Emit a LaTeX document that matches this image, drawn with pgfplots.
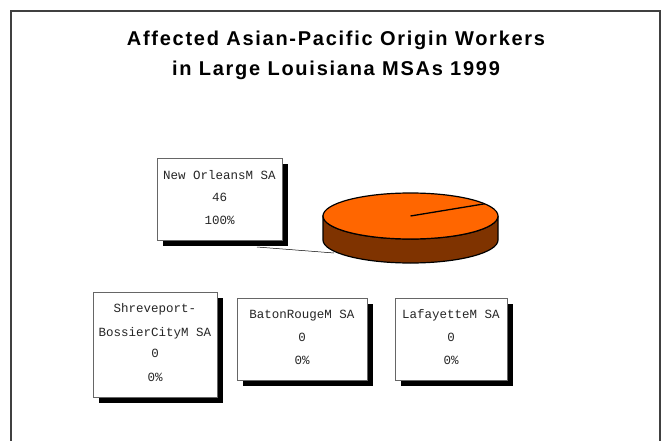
\documentclass[border=0pt]{standalone}
\usepackage{fontspec}
\usepackage{pgfplots}
\pgfplotsset{compat=1.18}
\setmainfont{Liberation Sans}
\newfontfamily\titlefont[LetterSpace=8.7]{Liberation Sans}
\newfontfamily\labfont{Liberation Mono}
\definecolor{pietop}{HTML}{FF6600}
\definecolor{pieside}{HTML}{7F3300}
\definecolor{framegray}{HTML}{404040}
\begin{document}
\begin{tikzpicture}
\useasboundingbox (0,0) rectangle (671bp,441bp);
\begin{axis}[at={(0,0)}, anchor=south west, scale only axis,
  width=671bp, height=441bp, xmin=0, xmax=671, ymin=0, ymax=441,
  y dir=reverse, hide axis, clip=false]
% outer frame
\draw[framegray, line width=1.4bp] (axis cs:11,441) -- (axis cs:11,11) -- (axis cs:660,11) -- (axis cs:660,441);
% title
\node[anchor=base, font=\titlefont\bfseries\fontsize{20bp}{22bp}\selectfont] at (axis cs:336,45.7) {Affected Asian-Pacific Origin Workers};
\node[anchor=base, font=\titlefont\bfseries\fontsize{20bp}{22bp}\selectfont] at (axis cs:336,76) {in Large Louisiana MSAs 1999};
% leader line
\draw[black, line width=0.5bp] (axis cs:257,247) -- (axis cs:334,253);
% pie (New Orleans MSA = 46, 100%)
\filldraw[fill=pieside, draw=black, line width=1.2bp]
  (axis cs:323,216) -- (axis cs:323,240)
  arc[start angle=180, end angle=360, x radius=87.5bp, y radius=23bp]
  -- (axis cs:498,216)
  arc[start angle=0, end angle=-180, x radius=87.5bp, y radius=23bp] -- cycle;
\filldraw[fill=pietop, draw=black, line width=1.2bp] (axis cs:410.5,216) ellipse [x radius=87.5bp, y radius=23bp];
\draw[black, line width=1.3bp] (axis cs:410.5,216) -- (axis cs:484.7,203.8);
% label boxes with shadows
\fill[black] (axis cs:163,164) rectangle (axis cs:288,246);
\filldraw[fill=white, draw=gray!80!black, line width=0.8bp] (axis cs:157,158) rectangle (axis cs:282,240);
\fill[black] (axis cs:99,298) rectangle (axis cs:223,403);
\filldraw[fill=white, draw=gray!80!black, line width=0.8bp] (axis cs:93,292) rectangle (axis cs:217,397);
\fill[black] (axis cs:243,304) rectangle (axis cs:373,386);
\filldraw[fill=white, draw=gray!80!black, line width=0.8bp] (axis cs:237,298) rectangle (axis cs:367,380);
\fill[black] (axis cs:401,304) rectangle (axis cs:513,386);
\filldraw[fill=white, draw=gray!80!black, line width=0.8bp] (axis cs:395,298) rectangle (axis cs:507,380);
% label texts
\tikzset{lab/.style={anchor=base, inner sep=0pt, font=\labfont\fontsize{12.5bp}{14bp}\selectfont, text=black!85}}
\node[lab] at (axis cs:219.5,179) {New OrleansM SA};
\node[lab] at (axis cs:219.5,201) {46};
\node[lab] at (axis cs:219.5,224) {100\%};
\node[lab] at (axis cs:155,312) {Shreveport-};
\node[lab] at (axis cs:155,336) {BossierCityM SA};
\node[lab] at (axis cs:155,357) {0};
\node[lab] at (axis cs:155,381) {0\%};
\node[lab] at (axis cs:302,318) {BatonRougeM SA};
\node[lab] at (axis cs:302,341) {0};
\node[lab] at (axis cs:302,364) {0\%};
\node[lab] at (axis cs:451,318) {LafayetteM SA};
\node[lab] at (axis cs:451,341) {0};
\node[lab] at (axis cs:451,364) {0\%};
\end{axis}
\end{tikzpicture}
\end{document}
